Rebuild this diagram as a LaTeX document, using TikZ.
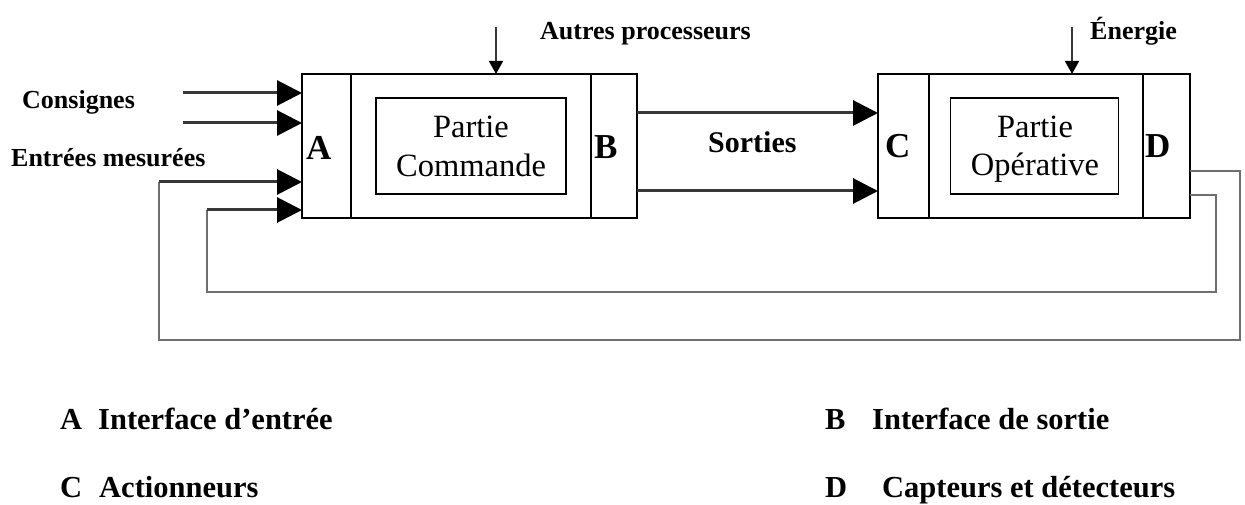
\documentclass[tikz,border=0pt]{standalone}
\usepackage{fontspec}
\setmainfont{Liberation Serif}
\usetikzlibrary{arrows.meta}
\definecolor{shaft}{RGB}{55,55,55}
\definecolor{loopline}{RGB}{110,110,110}
\begin{document}
\begin{tikzpicture}[x=1pt,y=-1pt,
  box/.style={draw=black,line width=1.8pt,inner sep=0pt,outer sep=0pt},
  ifbox/.style={box,minimum height=144pt},
  inner/.style={box,line width=1.5pt,minimum width=#1,minimum height=96pt},
  part/.style={anchor=base,inner sep=0pt,font=\fontsize{32.5}{39}\selectfont},
  letter/.style={anchor=base west,inner sep=0pt,font=\bfseries\fontsize{35}{40}\selectfont},
  lbl/.style={anchor=base west,inner sep=0pt,font=\bfseries\fontsize{26}{30}\selectfont},
  legend/.style={anchor=base west,inner sep=0pt,font=\bfseries\fontsize{30.5}{34}\selectfont},
  bigarrow/.style={draw=shaft,line width=3pt,-{Triangle[length=25pt,width=25pt,fill=black,color=black]}},
  smallarrow/.style={draw=shaft,line width=1.6pt,-{Triangle[length=13pt,width=14pt,fill=black,color=black]}},
  fb/.style={draw=loopline,line width=2.8pt}]
\useasboundingbox (0,0) rectangle (1245,505);

% control part
\node[box,minimum width=335pt,minimum height=144pt] (pc) at (469.5,146) {};
\node[ifbox,line width=2.6pt,minimum width=49pt] (A) at (326.5,146) {};
\node[ifbox,minimum width=46pt] (B) at (614,146) {};
\node[inner=190pt] (pcin) at (471,146) {};
\node[part] (pc1) at (471,138) {Partie};
\node[part] (pc2) at (471,177) {Commande};
\node[letter] (lA) at (306,160) {A};
\node[letter] (lB) at (594,159) {B};

% operative part
\node[box,minimum width=312pt,minimum height=144pt] (po) at (1034,146) {};
\node[ifbox,minimum width=51pt] (C) at (903.5,146) {};
\node[ifbox,minimum width=47pt] (D) at (1166.5,146) {};
\node[inner=168pt] (poin) at (1034.5,146) {};
\node[part] (po1) at (1035,138) {Partie};
\node[part] (po2) at (1035,176) {Opérative};
\node[letter] (lC) at (885,158) {C};
\node[letter] (lD) at (1145,158) {D};

% labels
\node[lbl] (cons) at (22,109) {Consignes};
\node[lbl] (mes) at (11,167) {Entrées mesurées};
\node[lbl] (autres) at (540,40) {Autres processeurs};
\node[lbl] (energ) at (1090,40) {Énergie};
\node[anchor=base west,inner sep=0pt,font=\bfseries\fontsize{30}{34}\selectfont] (sort) at (708,153) {Sorties};

% inputs
\coordinate (c1) at (183,93);
\coordinate (c2) at (183,123);
\draw[bigarrow] (c1) -- (c1 -| pc.west);
\draw[bigarrow] (c2) -- (c2 -| pc.west);
\coordinate (ap) at (496,27);
\draw[smallarrow] (ap) -- (ap |- pc.north);
\coordinate (en) at (1072,27);
\draw[smallarrow] (en) -- (en |- po.north);

% outputs
\coordinate (s1) at (637,113);
\coordinate (s2) at (637,191);
\draw[bigarrow] (s1) -- (s1 -| po.west);
\draw[bigarrow] (s2) -- (s2 -| po.west);

% feedback loops from the sensors
\coordinate (d1) at (1190,171);
\coordinate (d2) at (1190,195);
\coordinate (m1) at (159,182);
\coordinate (m2) at (207,210);
\draw[fb] (d1) -| (1240,340) -| (m1);
\draw[fb] (d2) -| (1216,292) -| (m2);
\draw[bigarrow] (m1) -- (m1 -| pc.west);
\draw[bigarrow] (m2) -- (m2 -| pc.west);

% legend
\node[legend] (kA) at (60,429) {A};
\node[legend] (tA) at (98,429) {Interface d’entrée};
\node[legend] (kB) at (825,429) {B};
\node[legend] (tB) at (872,429) {Interface de sortie};
\node[legend] (kC) at (60,497) {C};
\node[legend] (tC) at (99,497) {Actionneurs};
\node[legend] (kD) at (825,497) {D};
\node[legend] (tD) at (882,497) {Capteurs et détecteurs};
\end{tikzpicture}
\end{document}
